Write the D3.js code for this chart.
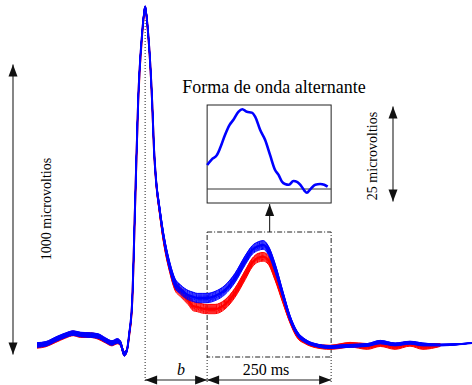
<!DOCTYPE html>
<html>
<head>
<meta charset="utf-8">
<script src="https://cdn.jsdelivr.net/npm/d3@7"></script>
<style>
  body { margin: 0; background: #fff; }
  text { font-family: "Liberation Serif", "Times New Roman", serif; fill: #000; }
</style>
</head>
<body>
<svg id="chart" width="472" height="385"></svg>
<script>
// sample times (ms, 0 = R peak)
const timeMs = [-218,-200,-180,-160,-145,-130,-110,-95,-80,-67,-56,-50,-42,-37,-32,-26,-20,-14,-6,0,
  6,14,18,22,29,36,50,60,71,87,97,105,115,125,141,161,181,202,216,228,
  238,248,262,278,292,306,323,343,373,393,413,448,474,504,534,560,595,659];

// mean beat, microvolts
const blueBeat = [0,4,20,34,41,36,34,31,17,7,14,7,-31,-20,40,155,500,845,1076,1162,
  1076,845,672,569,470,386,269,214,192,172,166,162,162,162,169,190,231,293,328,341,
  345,328,266,172,93,41,14,0,-7,-5,-3,0,10,2,8,2,0,7];
const redBeat = [-3,2,17,32,40,34,34,28,15,5,12,6,-30,-19,36,150,495,840,1072,1160,
  1074,842,670,566,465,378,262,205,183,155,134,131,126,124,124,140,180,242,284,301,
  304,294,238,155,86,34,10,-3,-8,-4,1,-5,3,-5,4,-5,0,null];

// half width of the band of beats, microvolts
const blueSpread = [8,8,8,8,8,8,8,8,8,8,8,8,8,6,6,6,6,6,6,8,
  8,8,10,12,13,14,15,16,16,16,16,16,16,16,16,16,16,16,15,15,
  15,15,15,12,10,8,6,5,5,5,5,5,6,5,5,5,3,0];
const redSpread = [8,8,8,8,8,8,8,8,8,8,8,8,8,6,6,6,6,6,6,8,
  8,8,10,12,13,14,15,16,16,16,16,16,16,16,16,16,16,16,15,15,
  15,15,15,12,10,8,6,6,7,8,8,10,8,10,8,10,5,0];

// position of each beat inside the band
const beatOffsets = [-1,-0.8,-0.6,-0.45,-0.3,-0.15,0,0.15,0.3,0.5,0.7,0.9,1];

// alternans waveform in the inset (ms from window start, microvolts)
const altTime = [0,9.5,19.6,26,36,45,53,63,71,80,90,97,107,117,127,137,144,151,157,165,
  174,182,188,196,201,208,218,228,236,243];
const altValue = [6.3,7.8,8.9,10.7,14.2,16.8,18.2,20.3,21.0,20.3,20.1,19.0,15.5,12.9,8.9,5.0,3.7,1.9,1.3,1.1,
  2.1,1.8,1.1,-0.4,-1.0,-0.1,1.1,1.3,1.1,0.6];

const windowStart = 125, windowLen = 250;

const svg = d3.select("#chart");

const x = d3.scaleLinear().domain([-218, 659]).range([37, 472]);
const y = d3.scaleLinear().domain([0, 1000]).range([345, 55]);

// arrow head helper
function head(g, x0, y0, dx, dy, len, w) {
  const px = -dy, py = dx;
  g.append("path")
    .attr("d", `M${x0},${y0} L${x0 - dx*len + px*w},${y0 - dy*len + py*w} L${x0 - dx*len - px*w},${y0 - dy*len - py*w} Z`)
    .attr("fill", "#111");
}
function arrow(g, x1, y1, x2, y2, both) {
  const L = Math.hypot(x2 - x1, y2 - y1), dx = (x2 - x1) / L, dy = (y2 - y1) / L;
  g.append("line").attr("x1", x1).attr("y1", y1).attr("x2", x2).attr("y2", y2)
    .attr("stroke", "#222").attr("stroke-width", 1.1);
  head(g, x2, y2, dx, dy, 12, 4.5);
  if (both) head(g, x1, y1, -dx, -dy, 12, 4.5);
}

const ann = svg.append("g");

// guide lines
ann.append("line").attr("x1", x(0)).attr("x2", x(0)).attr("y1", 20).attr("y2", 383)
  .attr("stroke", "#222").attr("stroke-dasharray", "1,2");
[windowStart, windowStart + windowLen].forEach(t => {
  ann.append("line").attr("x1", x(t)).attr("x2", x(t)).attr("y1", 357).attr("y2", 383)
    .attr("stroke", "#222").attr("stroke-dasharray", "1,2");
});
ann.append("rect")
  .attr("x", x(windowStart)).attr("y", 232)
  .attr("width", x(windowStart + windowLen) - x(windowStart)).attr("height", 125)
  .attr("fill", "none").attr("stroke", "#222").attr("stroke-dasharray", "5,2,1,2");

// beats
const line = d3.line()
  .defined(d => d[1] != null)
  .x(d => x(d[0])).y(d => y(d[1]))
  .curve(d3.curveMonotoneX);

function band(values, spread, color) {
  const g = svg.append("g");
  beatOffsets.forEach(k => {
    const pts = timeMs.map((t, i) => [t, values[i] == null ? null : values[i] + k * spread[i]]);
    g.append("path").attr("d", line(pts))
      .attr("fill", "none").attr("stroke", color).attr("stroke-width", 1);
  });
  g.append("path").attr("d", line(timeMs.map((t, i) => [t, values[i]])))
    .attr("fill", "none").attr("stroke", color).attr("stroke-width", 2);
}
band(redBeat, redSpread, "#ff0000");
band(blueBeat, blueSpread, "#0000ff");

// inset
const ix = d3.scaleLinear().domain([0, windowLen]).range([x(windowStart), x(windowStart + windowLen)]);
const iy = d3.scaleLinear().domain([0, 25]).range([189, 94]);
const inset = svg.append("g");
inset.append("rect").attr("x", ix(0)).attr("y", 105).attr("width", ix(windowLen) - ix(0)).attr("height", 98)
  .attr("fill", "#fff").attr("stroke", "#222").attr("stroke-width", 1);
inset.append("line").attr("x1", ix(0)).attr("x2", ix(windowLen)).attr("y1", iy(0)).attr("y2", iy(0))
  .attr("stroke", "#333").attr("stroke-width", 1);
inset.append("path")
  .attr("d", d3.line().x((d, i) => ix(altTime[i])).y(d => iy(d)).curve(d3.curveMonotoneX)(altValue))
  .attr("fill", "none").attr("stroke", "#0000ff").attr("stroke-width", 2.6);
inset.append("text").attr("x", 274).attr("y", 93).attr("text-anchor", "middle")
  .attr("font-size", 18).text("Forma de onda alternante");

// arrows
arrow(ann, 13, y(-33), 13, y(967), true);
arrow(svg, 393, iy(-3.3), 393, iy(21.7), true);
arrow(svg, x(windowStart + windowLen / 2) + 0.5, 232, x(windowStart + windowLen / 2) + 0.5, 204, false);
arrow(svg, x(0), 380, x(windowStart), 380, true);
arrow(svg, x(windowStart), 380, x(windowStart + windowLen), 380, true);

// labels
svg.append("text").attr("transform", "translate(51,209) rotate(-90)").attr("text-anchor", "middle")
  .attr("font-size", 14).text("1000 microvoltios");
svg.append("text").attr("transform", "translate(377,156) rotate(-90)").attr("text-anchor", "middle")
  .attr("font-size", 14).text("25 microvoltios");
svg.append("text").attr("x", 181).attr("y", 375).attr("text-anchor", "middle")
  .attr("font-size", 16).attr("font-style", "italic").text("b");
svg.append("text").attr("x", 266).attr("y", 375).attr("text-anchor", "middle")
  .attr("font-size", 16).text("250 ms");
</script>
</body>
</html>
